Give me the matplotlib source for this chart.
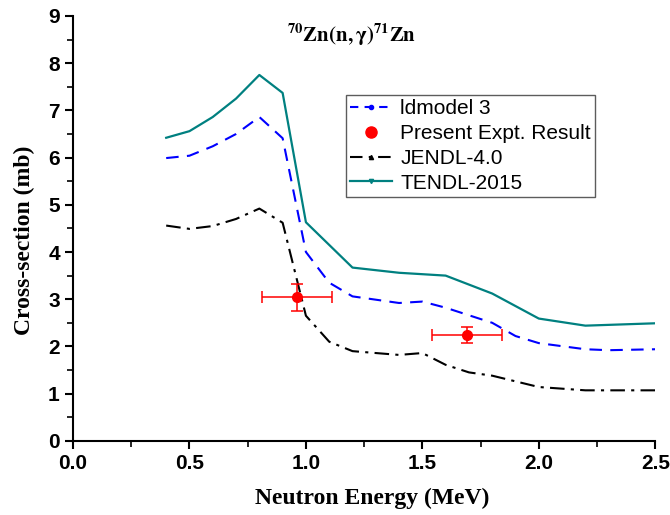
import matplotlib.pyplot as plt
from matplotlib.lines import Line2D
from matplotlib.ticker import MultipleLocator

plt.rcParams['mathtext.fontset'] = 'stix'

# Ldmodel 3 (TALYS)
ld_E = [0.4, 0.5, 0.6, 0.7, 0.8, 0.9, 1.0, 1.1, 1.2, 1.4, 1.5, 1.6, 1.8, 1.9, 2.0, 2.2, 2.3, 2.5]
ld_xs = [5.99, 6.04, 6.24, 6.50, 6.86, 6.41, 4.00, 3.35, 3.06, 2.92, 2.95, 2.82, 2.50, 2.22, 2.07, 1.94, 1.92, 1.94]

# JENDL-4.0
jendl_E = [0.4, 0.5, 0.6, 0.7, 0.8, 0.9, 1.0, 1.1, 1.2, 1.4, 1.5, 1.6, 1.7, 1.8, 2.0, 2.2, 2.5]
jendl_xs = [4.56, 4.49, 4.55, 4.70, 4.92, 4.62, 2.65, 2.10, 1.90, 1.82, 1.86, 1.61, 1.45, 1.38, 1.14, 1.07, 1.07]

# TENDL-2015
tendl_E = [0.4, 0.5, 0.6, 0.7, 0.8, 0.9, 1.0, 1.2, 1.4, 1.6, 1.8, 2.0, 2.2, 2.5]
tendl_xs = [6.42, 6.56, 6.86, 7.25, 7.75, 7.37, 4.63, 3.67, 3.56, 3.50, 3.12, 2.59, 2.44, 2.49]

# Present experimental result
exp_E = [0.96, 1.69]
exp_xs = [3.04, 2.24]
exp_dE = [0.15, 0.15]
exp_dxs = [0.28, 0.17]

TEAL = '#008080'

fig = plt.figure(figsize=(6.7, 5.15), dpi=100)
ax = fig.add_axes([0.109, 0.144, 0.869, 0.825])

ax.plot(ld_E, ld_xs, color='blue', linestyle=(0, (6, 4)), linewidth=1.5)
ax.plot(jendl_E, jendl_xs, color='black', linestyle=(0, (7, 3, 1.5, 3)), linewidth=1.5)
ax.plot(tendl_E, tendl_xs, color=TEAL, linestyle='-', linewidth=1.6)
ax.errorbar(exp_E, exp_xs, xerr=exp_dE, yerr=exp_dxs, fmt='o', color='red',
            markersize=7, capsize=4, elinewidth=1.1, capthick=1.1)

ax.set_xlim(0, 2.5)
ax.set_ylim(0, 9)
ax.xaxis.set_major_locator(MultipleLocator(0.5))
ax.xaxis.set_minor_locator(MultipleLocator(0.25))
ax.yaxis.set_major_locator(MultipleLocator(1))
ax.yaxis.set_minor_locator(MultipleLocator(0.5))
ax.spines['top'].set_visible(False)
ax.spines['right'].set_visible(False)
for s in ['left', 'bottom']:
    ax.spines[s].set_linewidth(1.5)
ax.tick_params(which='major', direction='out', length=6, width=1.5)
ax.tick_params(which='minor', direction='out', length=4, width=1.2)
ax.xaxis.set_major_formatter(plt.FormatStrFormatter('%.1f'))
ax.yaxis.set_major_formatter(plt.FormatStrFormatter('%d'))
for lab in ax.get_xticklabels() + ax.get_yticklabels():
    lab.set_family(['Liberation Sans Narrow', 'Liberation Sans'])
    lab.set_fontweight('bold')
    lab.set_fontsize(15)

ax.set_xlabel('Neutron Energy (MeV)', family='Liberation Serif', fontweight='bold', fontsize=17)
ax.set_ylabel('Cross-section (mb)', family='Liberation Serif', fontweight='bold', fontsize=17)
ax.xaxis.set_label_coords(0.513, -0.11)
ax.yaxis.set_label_coords(-0.066, 0.473)

ax.text(0.478, 0.955, r'$\mathbf{^{70}Zn(n,\gamma)^{71}Zn}$', transform=ax.transAxes,
        ha='center', va='center', fontsize=15)

handles = [
    Line2D([], [], color='blue', linestyle=(0, (4, 3)), linewidth=1.5, marker='o', markersize=3),
    Line2D([], [], color='red', linestyle='none', marker='o', markersize=8),
    Line2D([], [], color='black', linestyle=(0, (6, 3, 1.5, 3)), linewidth=1.5, marker='^', markersize=3),
    Line2D([], [], color=TEAL, linestyle='-', linewidth=1.6, marker='v', markersize=3),
]
labels = ['ldmodel 3', 'Present Expt. Result', 'JENDL-4.0', 'TENDL-2015']
leg = ax.legend(handles, labels, loc='upper left', bbox_to_anchor=(0.469, 0.814),
                prop={'family': 'Liberation Sans', 'size': 15}, frameon=True,
                fancybox=False, edgecolor='#333333', handlelength=2.0,
                handletextpad=0.4, borderpad=0.2, labelspacing=0.28, borderaxespad=0)
leg.get_frame().set_linewidth(1.0)

fig.savefig('out.png', dpi=100)
